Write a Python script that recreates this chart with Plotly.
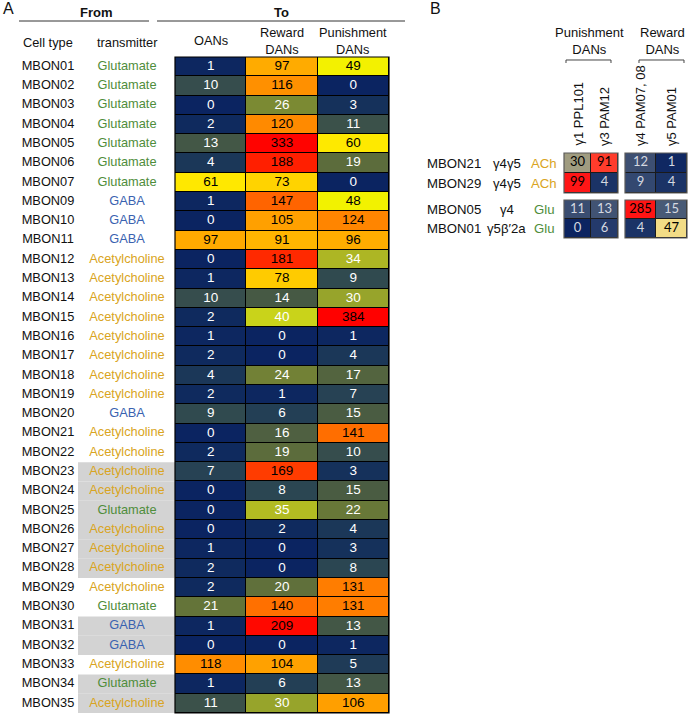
import plotly.graph_objects as go

# ---------------- data: panel A ----------------
cell_types = ["MBON01", "MBON02", "MBON03", "MBON04", "MBON05", "MBON06", "MBON07",
              "MBON09", "MBON10", "MBON11", "MBON12", "MBON13", "MBON14", "MBON15",
              "MBON16", "MBON17", "MBON18", "MBON19", "MBON20", "MBON21", "MBON22",
              "MBON23", "MBON24", "MBON25", "MBON26", "MBON27", "MBON28", "MBON29",
              "MBON30", "MBON31", "MBON32", "MBON33", "MBON34", "MBON35"]
transmitters = ["Glutamate"] * 7 + ["GABA"] * 3 + ["Acetylcholine"] * 8 + ["GABA"] + \
               ["Acetylcholine"] * 4 + ["Glutamate"] + ["Acetylcholine"] * 4 + \
               ["Glutamate", "GABA", "GABA", "Acetylcholine", "Glutamate", "Acetylcholine"]
shaded = [False] * 21 + [True] * 6 + [False, False, True, True, False, True, True]
oans = [1, 10, 0, 2, 13, 4, 61, 1, 0, 97, 0, 1, 10, 2, 1, 2, 4, 2, 9, 0, 2,
        7, 0, 0, 0, 1, 2, 2, 21, 1, 0, 118, 1, 11]
reward_dans = [97, 116, 26, 120, 333, 188, 73, 147, 105, 91, 181, 78, 14, 40, 0, 0, 24, 1, 6, 16, 19,
               169, 8, 35, 2, 0, 0, 20, 140, 209, 0, 104, 6, 30]
punishment_dans = [49, 0, 3, 11, 60, 19, 0, 48, 124, 96, 34, 9, 30, 384, 1, 4, 17, 7, 15, 141, 10,
                   3, 15, 22, 4, 3, 8, 131, 131, 13, 1, 5, 13, 106]
col_labels_a = ["OANs", "Reward<br>DANs", "Punishment<br>DANs"]

# ---------------- data: panel B ----------------
b_rows = ["MBON21", "MBON29", "MBON05", "MBON01"]
b_compartments = ["γ4γ5", "γ4γ5", "γ4", "γ5β′2a"]
b_transmitters = ["ACh", "ACh", "Glu", "Glu"]
b_cols_punish = ["γ1 PPL101", "γ3 PAM12"]
b_cols_reward = ["γ4 PAM07, 08", "γ5 PAM01"]
b_ppl101 = [30, 99, 11, 0]
b_pam12 = [91, 4, 13, 6]
b_pam0708 = [12, 9, 285, 4]
b_pam01 = [1, 4, 15, 47]

# ---------------- styles ----------------
W, H = 689, 715
FONT = "Liberation Sans, Arial, sans-serif"
TX_COLORS = {"Glutamate": "#4f8d3b", "GABA": "#3a62b0", "Acetylcholine": "#d9a422",
             "Glu": "#4f8d3b", "ACh": "#d9a422"}


def px(x):
    return x / W


def py(y):
    return 1 - y / H


ZMAX_A = 400
anchors_a = [(0, "#0b2461"), (2, "#0f2a5e"), (4, "#1b3758"), (8, "#2b4652"), (11, "#3b514a"),
             (15, "#4a5c42"), (19, "#5c6c3c"), (22, "#687838"), (26, "#7b8a33"), (30, "#97a42b"),
             (35, "#b2bb22"), (40, "#c9d31a"), (48, "#f2f200"), (61, "#ffe800"), (75, "#ffd000"),
             (95, "#ffae00"), (105, "#ffa000"), (120, "#ff8a00"), (131, "#ff7d00"), (145, "#ff6800"),
             (169, "#ff3c00"), (185, "#ff2200"), (209, "#ff0800"), (400, "#ff0000")]
cs_a = [[v / ZMAX_A, c] for v, c in anchors_a]

ZMAX_B = 300
anchors_b = [(0, "#0c2461"), (4, "#1b3366"), (6, "#243a6b"), (9, "#334870"), (12, "#3d4f72"),
             (15, "#485a76"), (30, "#a09c80"), (47, "#f2dc86"), (70, "#ff8a50"), (91, "#ff3c2c"),
             (99, "#ff1616"), (300, "#ff1414")]
cs_b = [[v / ZMAX_B, c] for v, c in anchors_b]

fig = go.Figure()

# ---------------- panel A heatmap ----------------
n = len(cell_types)
rows = list(range(n))
z_a = [[oans[i], reward_dans[i], punishment_dans[i]] for i in rows]
fig.add_trace(go.Heatmap(z=z_a, x=[0, 1, 2], y=rows, colorscale=cs_a, zmin=0, zmax=ZMAX_A,
                         xgap=1, ygap=1, showscale=False, hoverinfo="skip",
                         xaxis="x", yaxis="y"))
tx, ty, tt, tc = [], [], [], []
for i in rows:
    for j, v in enumerate(z_a[i]):
        tx.append(j)
        ty.append(i)
        tt.append(str(v))
        tc.append("white" if v < 45 else "black")
fig.add_trace(go.Scatter(x=tx, y=ty, text=tt, mode="text", textposition="middle center",
                         textfont=dict(family=FONT, size=13.5, color=tc),
                         hoverinfo="skip", showlegend=False, xaxis="x", yaxis="y"))

# row labels
fig.add_trace(go.Scatter(x=[48] * n, y=rows, text=cell_types, mode="text",
                         textfont=dict(family=FONT, size=12.8, color="#111111"),
                         hoverinfo="skip", showlegend=False, xaxis="x2", yaxis="y"))
fig.add_trace(go.Scatter(x=[127] * n, y=rows, text=transmitters, mode="text",
                         textfont=dict(family=FONT, size=12.8,
                                       color=[TX_COLORS[t] for t in transmitters]),
                         hoverinfo="skip", showlegend=False, xaxis="x2", yaxis="y"))

shapes = []
# black background and border for panel A grid
shapes.append(dict(type="rect", xref="x domain", yref="y domain", x0=0, x1=1, y0=0, y1=1,
                   fillcolor="#000000", line=dict(width=0), layer="below"))
shapes.append(dict(type="rect", xref="x domain", yref="y domain", x0=0, x1=1, y0=0, y1=1,
                   fillcolor="rgba(0,0,0,0)", line=dict(color="#000000", width=1.2), layer="above"))
# grey shading of transmitter cells
for i in rows:
    if shaded[i]:
        shapes.append(dict(type="rect", xref="x2", yref="y", x0=78, x1=175, y0=i - 0.5, y1=i + 0.5,
                           fillcolor="#d3d3d3", line=dict(width=0), layer="below"))
# header underlines
shapes.append(dict(type="line", xref="paper", yref="paper", x0=px(19), x1=px(149), y0=py(21), y1=py(21),
                   line=dict(color="#333333", width=1)))
shapes.append(dict(type="line", xref="paper", yref="paper", x0=px(157), x1=px(405), y0=py(21), y1=py(21),
                   line=dict(color="#333333", width=1)))

annotations = []


def ann(text, x, y, size=12.8, color="#111111", bold=False, family=FONT, **kw):
    d = dict(text=("<b>%s</b>" % text) if bold else text, x=x, y=y, showarrow=False,
             xanchor="center", yanchor="middle",
             font=dict(family=family, size=size, color=color))
    d.setdefault("xref", "paper")
    d.setdefault("yref", "paper")
    d.update(kw)
    annotations.append(d)


ann("A", px(8), py(9), size=16)
ann("From", px(96), py(12), size=13, bold=True)
ann("To", px(281), py(12), size=13, bold=True)
ann("Cell type", px(48), py(42))
ann("transmitter", px(127), py(42))
for j, lab in enumerate(col_labels_a):
    ann(lab, j, py(41), xref="x")

# ---------------- panel B ----------------
top = [0, 1]
bot = [2, 3]
blocks = [("x3", "y3", b_ppl101, b_pam12, top), ("x4", "y3", b_pam0708, b_pam01, top),
          ("x3", "y4", b_ppl101, b_pam12, bot), ("x4", "y4", b_pam0708, b_pam01, bot)]
for xa, ya, c1, c2, idx in blocks:
    z = [[c1[i], c2[i]] for i in idx]
    fig.add_trace(go.Heatmap(z=z, x=[0, 1], y=[0, 1], colorscale=cs_b, zmin=0, zmax=ZMAX_B,
                             xgap=1, ygap=1, showscale=False, hoverinfo="skip",
                             xaxis=xa, yaxis=ya))
    bx, by, bt, bc = [], [], [], []
    for r in range(2):
        for c in range(2):
            v = z[r][c]
            bx.append(c)
            by.append(r)
            bt.append(str(v))
            bc.append("#d5d9e0" if v < 25 else "#000000")
    fig.add_trace(go.Scatter(x=bx, y=by, text=bt, mode="text",
                             textfont=dict(family="Lato, Open Sans, sans-serif", size=13, color=bc),
                             hoverinfo="skip", showlegend=False, xaxis=xa, yaxis=ya))
    xr = xa + " domain"
    yr = ya + " domain"
    shapes.append(dict(type="rect", xref=xr, yref=yr, x0=0, x1=1, y0=0, y1=1,
                       fillcolor="#1a1a1a", line=dict(width=0), layer="below"))
    shapes.append(dict(type="rect", xref=xr, yref=yr, x0=0, x1=1, y0=0, y1=1,
                       fillcolor="rgba(0,0,0,0)", line=dict(color="#5a5a5a", width=1.2), layer="above"))

# panel B row labels
for k, name in enumerate(b_rows):
    yref = "y3" if k < 2 else "y4"
    yv = k % 2
    ann(name, px(454), yv, yref=yref, size=13.2)
    ann(b_compartments[k], px(507), yv, yref=yref, size=13.2)
    ann(b_transmitters[k], px(544), yv, yref=yref, size=13.2, color=TX_COLORS[b_transmitters[k]])

# panel B column labels (rotated)
for j, lab in enumerate(b_cols_punish):
    ann(lab, j, py(148), xref="x3", textangle=-90, yanchor="bottom", size=13)
for j, lab in enumerate(b_cols_reward):
    ann(lab, j, py(148), xref="x4", textangle=-90, yanchor="bottom", size=13)

ann("B", px(436), py(9), size=16)
ann("Punishment<br>DANs", px(589), py(41), size=13)
ann("Reward<br>DANs", px(662), py(41), size=13)


def bracket(x0, x1, y, drop=3):
    path = "M %f,%f L %f,%f L %f,%f L %f,%f" % (px(x0), py(y + drop), px(x0), py(y),
                                                 px(x1), py(y), px(x1), py(y + drop))
    return dict(type="path", xref="paper", yref="paper", path=path,
                line=dict(color="#444444", width=1))


shapes.append(bracket(566, 611, 60))
shapes.append(bracket(639, 684, 60))

hidden = dict(visible=False, showgrid=False, zeroline=False, fixedrange=True)
fig.update_layout(
    width=W, height=H, margin=dict(l=0, r=0, t=0, b=0),
    paper_bgcolor="white", plot_bgcolor="rgba(0,0,0,0)", showlegend=False,
    xaxis=dict(domain=[px(175), px(389)], range=[-0.5, 2.5], anchor="y", **hidden),
    yaxis=dict(domain=[py(713), py(57)], range=[n - 0.5, -0.5], anchor="x", **hidden),
    xaxis2=dict(domain=[0, px(175)], range=[0, 175], anchor="y", **hidden),
    xaxis3=dict(domain=[px(564), px(618)], range=[-0.5, 1.5], anchor="y3", **hidden),
    xaxis4=dict(domain=[px(625), px(687)], range=[-0.5, 1.5], anchor="y3", **hidden),
    yaxis3=dict(domain=[py(193), py(153)], range=[1.5, -0.5], anchor="x3", **hidden),
    yaxis4=dict(domain=[py(238), py(200)], range=[1.5, -0.5], anchor="x3", **hidden),
    shapes=shapes, annotations=annotations,
)

fig.write_html("out.html", config={"displayModeBar": False},
               post_script="document.body.style.margin='0';document.body.style.overflow='hidden';")
